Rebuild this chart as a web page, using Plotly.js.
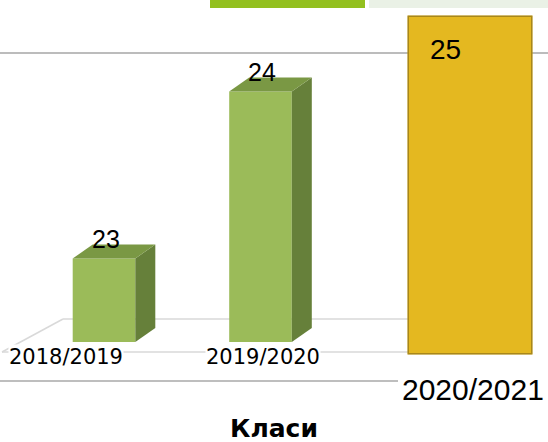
<!DOCTYPE html>
<html>
<head>
<meta charset="utf-8">
<script src="https://cdn.plot.ly/plotly-3.0.1.min.js"></script>
<style>html,body{margin:0;padding:0;background:#fff;}#chart{width:548px;height:442px;}</style>
</head>
<body>
<div id="chart"></div>
<script>
// ---- data ----
const categories = ['2018/2019', '2019/2020', '2020/2021'];
const values = [23, 24, 25];
const axisTitle = 'Класи';
const baseValue = 22.5;

// ---- style constants ----
const W = 548, H = 442;
const frontColor = '#9BBB59', sideColor = '#66803A', topColor = '#7A9844';
const yellowFill = '#E4B820', yellowLine = '#A8871A';
const barW = 0.40;
const dx = 20 / 156.5, dy = 14 / 167;   // 3D depth offsets in axis units

const green = [0, 1]; // indices drawn as 3D green columns
const hi = 2;         // highlighted column

const traces = [];
// front faces
traces.push({
  type: 'bar', x: green, y: green.map(i => values[i] - baseValue), base: baseValue,
  width: barW, marker: {color: frontColor, line: {width: 0}},
  hoverinfo: 'skip', showlegend: false, xaxis: 'x', yaxis: 'y'
});
// side and top faces
green.forEach(i => {
  const v = values[i];
  const r = i + barW / 2, l = i - barW / 2;
  traces.push({
    type: 'scatter', mode: 'lines', fill: 'toself', fillcolor: sideColor,
    line: {width: 0, color: sideColor},
    x: [r, r + dx, r + dx, r, r], y: [baseValue, baseValue + dy, v + dy, v, baseValue],
    hoverinfo: 'skip', showlegend: false, xaxis: 'x', yaxis: 'y'
  });
  traces.push({
    type: 'scatter', mode: 'lines', fill: 'toself', fillcolor: topColor,
    line: {width: 0, color: topColor},
    x: [l, r, r + dx, l + dx, l], y: [v, v, v + dy, v + dy, v],
    hoverinfo: 'skip', showlegend: false, xaxis: 'x', yaxis: 'y'
  });
});
// highlighted column
traces.push({
  type: 'bar', x: [categories[hi]], y: [values[hi]], width: 1,
  marker: {color: yellowFill, line: {color: yellowLine, width: 3}},
  hoverinfo: 'skip', showlegend: false, xaxis: 'x2', yaxis: 'y2'
});

const annotations = [];
const labelShift = [-38, 2.5];
green.forEach((i, k) => {
  annotations.push({
    xref: 'x', yref: 'y', x: i, y: baseValue, xshift: labelShift[k], yshift: -15,
    text: categories[i], showarrow: false, bgcolor: '#ffffff', borderpad: 0,
    font: {family: 'DejaVu Sans', size: 21, color: '#000'}
  });
  annotations.push({
    xref: 'x', yref: 'y', x: i, y: values[i], xshift: 1.5, yshift: 20,
    text: String(values[i]), showarrow: false,
    font: {family: 'Liberation Sans, Arial', size: 25, color: '#000'}
  });
});
annotations.push({
  xref: 'x2', yref: 'y2', x: categories[hi], y: 0, xshift: 2.5, yshift: -34.5,
  text: categories[hi], showarrow: false,
  font: {family: 'Liberation Sans, Arial', size: 30, color: '#000'}
});
annotations.push({
  xref: 'x2', yref: 'y2', x: categories[hi], y: values[hi], xshift: -25, yshift: -34.5,
  text: String(values[hi]), showarrow: false,
  font: {family: 'Liberation Sans, Arial', size: 28, color: '#000'}
});
annotations.push({
  xref: 'paper', yref: 'paper', x: 273.5 / W, y: 0, yanchor: 'bottom', yshift: -3,
  text: '<b>' + axisTitle + '</b>', showarrow: false,
  font: {family: 'DejaVu Sans', size: 25, color: '#000'}
});

const floorBack = baseValue + 23 / 167, floorFront = baseValue - 10 / 167;
const xOf = px => (px - 104) / 156.5;
const shapes = [
  // top decoration bars
  {type: 'rect', xref: 'paper', yref: 'paper', x0: 210 / W, x1: 365 / W, y0: 1 - 8 / H, y1: 1,
   fillcolor: '#93C01F', line: {width: 0}, layer: 'below'},
  {type: 'rect', xref: 'paper', yref: 'paper', x0: 369 / W, x1: 1, y0: 1 - 8 / H, y1: 1,
   fillcolor: '#EAF1E6', line: {width: 0}, layer: 'below'},
  // slide rules
  {type: 'line', xref: 'paper', yref: 'paper', x0: 0, x1: 1, y0: 1 - 53 / H, y1: 1 - 53 / H,
   line: {color: '#A6A6A6', width: 1.5}, layer: 'below'},
  {type: 'line', xref: 'paper', yref: 'paper', x0: 0, x1: 398 / W, y0: 1 - 381 / H, y1: 1 - 381 / H,
   line: {color: '#7F7F7F', width: 1.2}, layer: 'below'},
  // floor
  {type: 'line', xref: 'x', yref: 'y', x0: xOf(63), x1: xOf(420), y0: floorBack, y1: floorBack,
   line: {color: '#D9D9D9', width: 1.5}, layer: 'below'},
  {type: 'line', xref: 'x', yref: 'y', x0: xOf(2), x1: xOf(420), y0: floorFront, y1: floorFront,
   line: {color: '#D9D9D9', width: 1.5}, layer: 'below'},
  {type: 'line', xref: 'x', yref: 'y', x0: xOf(63), x1: xOf(2), y0: floorBack, y1: floorFront,
   line: {color: '#D9D9D9', width: 1.5}, layer: 'below'}
];

const layout = {
  width: W, height: H, margin: {l: 0, r: 0, t: 0, b: 0},
  paper_bgcolor: '#ffffff', plot_bgcolor: 'rgba(0,0,0,0)',
  showlegend: false,
  xaxis: {type: 'linear', range: [-104 / 156.5, (W - 104) / 156.5], domain: [0, 1],
          visible: false, fixedrange: true},
  yaxis: {range: [baseValue - (H - 342) / 167, baseValue + 342 / 167], domain: [0, 1],
          visible: false, fixedrange: true},
  xaxis2: {type: 'category', range: [-0.5, 0.5], domain: [407.5 / W, 532.5 / W],
           anchor: 'y2', visible: false, fixedrange: true},
  yaxis2: {range: [0, values[hi]], domain: [(H - 354.5) / H, (H - 15.5) / H],
           anchor: 'x2', visible: false, fixedrange: true},
  shapes: shapes,
  annotations: annotations
};

Plotly.newPlot('chart', traces, layout, {displayModeBar: false, staticPlot: true});
</script>
</body>
</html>
